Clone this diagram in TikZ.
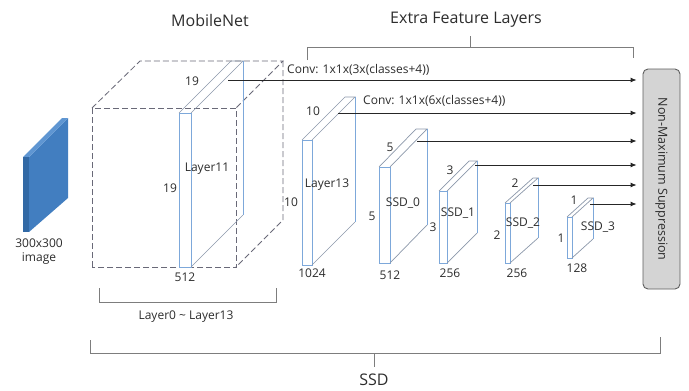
\documentclass[tikz,border=0pt]{standalone}
\usepackage{fontspec}
\setmainfont{Open Sans}
\usepackage{graphicx}
\usetikzlibrary{arrows.meta}
\definecolor{slabv}{RGB}{125,168,218}
\definecolor{slabd}{RGB}{140,152,170}
\definecolor{dashc}{RGB}{105,105,120}
\definecolor{brk}{RGB}{125,125,125}
\definecolor{imgside}{RGB}{66,126,192}
\definecolor{imgtop}{RGB}{95,150,210}
\definecolor{imgfront}{RGB}{50,105,165}
\definecolor{nmsfill}{RGB}{212,212,212}
\definecolor{nmsdraw}{RGB}{95,95,95}
\definecolor{txt}{RGB}{45,45,45}
\newcommand{\myslab}[6]{% x, ytop, w, ybot, dx, dy
  \draw[slabv, line width=0.8pt] (#1,#2) rectangle (#1+#3,#4);
  \draw[slabd, line width=0.7pt] (#1,#2) -- (#1+#5,#2-#6) -- (#1+#3+#5,#2-#6) -- (#1+#3,#2);
  \draw[slabv, line width=0.8pt] (#1+#3+#5,#2-#6) -- (#1+#3+#5,#4-#6);
  \draw[slabd, line width=0.7pt] (#1+#3+#5,#4-#6) -- (#1+#3,#4);
}
\begin{document}
\begin{tikzpicture}[x=1pt,y=-1pt,
  lbl/.style={font=\fontsize{12}{12}\selectfont, text=txt, inner sep=0pt},
  head/.style={font=\fontsize{16}{16}\selectfont, text=txt, inner sep=0pt},
  arr/.style={draw=black!85, line width=0.9pt, -{Latex[length=6pt,width=5pt]}, shorten >=6pt},
  brkline/.style={draw=brk, line width=0.8pt},
  cube/.style={draw=dashc, line width=0.8pt, dash pattern=on 6pt off 3pt},
  nmsbox/.style={draw=nmsdraw, fill=nmsfill, line width=0.9pt, rounded corners=5pt,
    minimum width=37pt, minimum height=220pt, inner sep=0pt}
]
\useasboundingbox (0,0) rectangle (689,391);
\fill[white] (0,0) rectangle (689,391);

% input image
\fill[imgside] (29,157) -- (68,118) -- (68,198) -- (29,232) -- cycle;
\fill[imgtop] (23,157) -- (62,118) -- (68,118) -- (29,157) -- cycle;
\fill[imgfront] (23,157) rectangle (29,232);
\node[lbl] (imgt1) at (39,243) {300x300};
\node[lbl] (imgt2) at (39,259) {image};

% MobileNet dashed cube
\draw[cube] (92,267) -- (92,108) -- (236,108) -- (236,267) -- cycle;
\draw[cube] (92,108) -- (140,61) -- (283,61) -- (236,108);
\draw[cube] (283,61) -- (283,220) -- (236,267);

% slabs
\myslab{179}{113}{12}{267}{52}{52}
\myslab{302}{140}{10}{265}{43}{43}
\myslab{379}{167}{11}{263}{37}{38}
\myslab{439}{191}{8}{263}{30}{30}
\myslab{505}{203}{5}{263}{28}{25}
\myslab{567}{217}{5}{258}{21}{19}

% labels on slabs
\node[lbl] (d11a) at (192,81) {19};
\node[lbl] (d11b) at (170,188) {19};
\node[lbl] (n11) at (207,169) {Layer11};
\node[lbl] (c11) at (185,277) {512};
\node[lbl] (d13a) at (313,111) {10};
\node[lbl] (d13b) at (291,202) {10};
\node[lbl] (n13) at (327,185) {Layer13};
\node[lbl] (c13) at (312,273) {1024};
\node[lbl] (d0a) at (390,147) {5};
\node[lbl] (d0b) at (372,216) {5};
\node[lbl] (n0) at (403,203) {SSD\_0};
\node[lbl] (c0) at (390,275) {512};
\node[lbl] (d1a) at (450,170) {3};
\node[lbl] (d1b) at (433,227) {3};
\node[lbl] (n1) at (458,213) {SSD\_1};
\node[lbl] (c1) at (450,273) {256};
\node[lbl] (d2a) at (515,183) {2};
\node[lbl] (d2b) at (497,235) {2};
\node[lbl] (n2) at (523,223) {SSD\_2};
\node[lbl] (c2) at (517,273) {256};
\node[lbl] (d3a) at (574,200) {1};
\node[lbl] (d3b) at (561,238) {1};
\node[lbl] (n3) at (598,227) {SSD\_3};
\node[lbl] (c3) at (577,268) {128};

% NMS box
\node[nmsbox] (nms) at (661.5,179) {\rotatebox{-90}{\fontsize{12.5}{12.5}\selectfont\color{txt}Non-Maximum Suppression}};

% arrows
\coordinate (s11) at (228,80);
\coordinate (s13) at (338,113);
\coordinate (s0) at (417,141);
\coordinate (s1) at (475,165);
\coordinate (s2) at (533,185);
\coordinate (s3) at (590,204);
\foreach \s in {s11,s13,s0,s1,s2,s3}
  \draw[arr] (\s) -- (\s -| nms.west);
\node[lbl, anchor=west] (conv1) at (287,70) {Conv: 1x1x(3x(classes+4))};
\node[lbl, anchor=west] (conv2) at (363,101) {Conv: 1x1x(6x(classes+4))};

% headings and brackets
\node[head] (hmob) at (210,20) {MobileNet};
\node[head] (hext) at (466,20) {Extra Feature Layers};
\draw[brkline] (307,60) -- (307,47) -- (633,47) -- (633,58);
\draw[brkline] (470,47) -- (470,36);
\draw[brkline] (99,288) -- (99,302) -- (276,302) -- (276,288);
\node[lbl] (lrange) at (186,317) {Layer0 \textasciitilde{} Layer13};
\draw[brkline] (90,340) -- (90,353) -- (660,353) -- (660,337);
\draw[brkline] (374,353) -- (374,367);
\node[head] (hssd) at (374,380) {SSD};
\end{tikzpicture}
\end{document}
